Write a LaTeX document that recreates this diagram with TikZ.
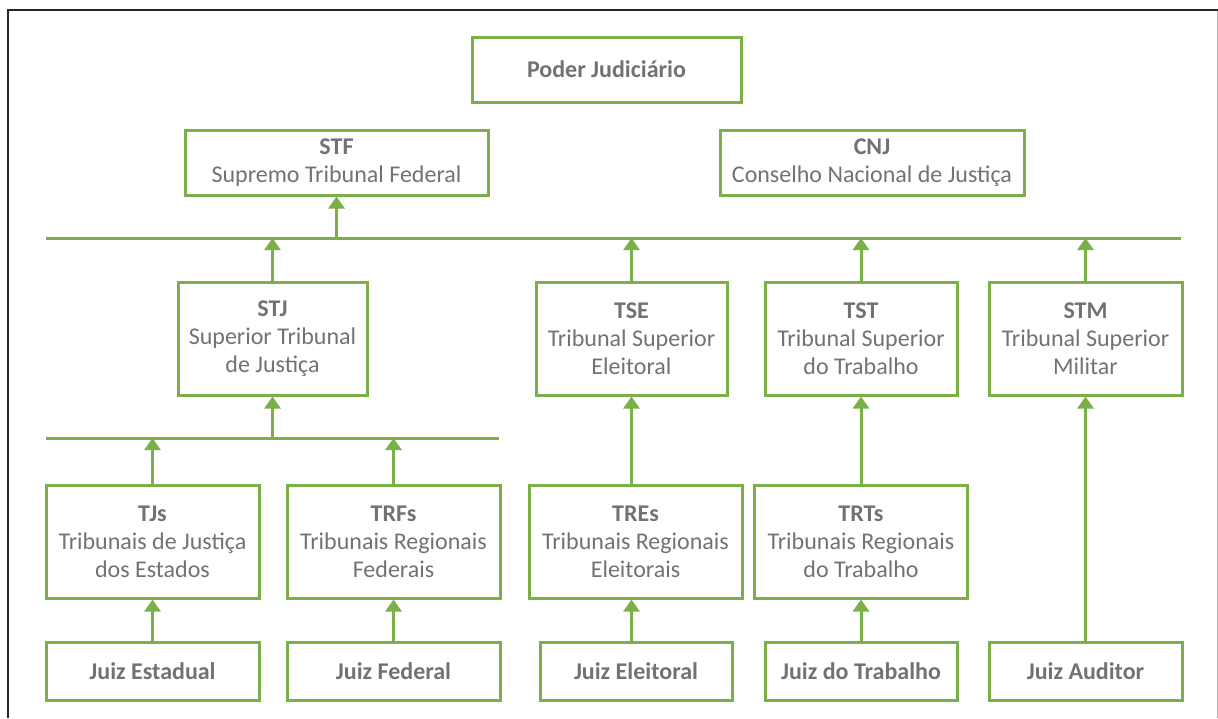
\documentclass[tikz,border=0pt]{standalone}
\usepackage{fontspec}
\setmainfont{Carlito}
\usetikzlibrary{arrows.meta}
\definecolor{grn}{HTML}{7AB047}
\definecolor{txt}{HTML}{757171}
\tikzset{
  box/.style={draw=grn, line width=3pt, rectangle, inner sep=0pt, align=center,
    text=txt, font=\fontsize{24}{28}\selectfont},
  arr/.style={draw=grn, line width=3pt, -{Triangle[width=16pt,length=12pt]}},
  busline/.style={draw=grn, line width=3pt},
}
\newcommand{\ttl}[1]{\textbf{#1}}
\begin{document}
\begin{tikzpicture}[x=1pt,y=1pt]
\useasboundingbox (0,0) rectangle (1218,-718);
% frame
\draw[line width=1.5pt, black!85] (8,-718) -- (8,-10) -- (1218,-10);
\draw[line width=1pt, black!30] (1217,-11) -- (1217,-718);

% top level
\node[box, minimum width=269pt, minimum height=65pt] (pj) at (606.5,-69.5) {\ttl{Poder Judiciário}};
\node[box, minimum width=303pt, minimum height=65pt] (stf) at (336.5,-162.5) {\ttl{STF}\\Supremo Tribunal Federal};
\node[box, minimum width=304pt, minimum height=65pt] (cnj) at (872,-162.5) {\ttl{CNJ}\\Conselho Nacional de Justiça};

% bus 1
\coordinate (b1l) at (46,-238);
\coordinate (b1r) at (1181,-238);
\draw[busline] (b1l) -- (b1r);

% superior courts
\node[box, minimum width=189pt, minimum height=113pt] (stj) at (272.5,-338.5) {\ttl{STJ}\\Superior Tribunal\\de Justiça};
\node[box, minimum width=191pt, minimum height=113pt] (tse) at (631.5,-338.5) {\ttl{TSE}\\Tribunal Superior\\Eleitoral};
\node[box, minimum width=192pt, minimum height=113pt] (tst) at (861,-338.5) {\ttl{TST}\\Tribunal Superior\\do Trabalho};
\node[box, minimum width=193pt, minimum height=113pt] (stm) at (1085.5,-338.5) {\ttl{STM}\\Tribunal Superior\\Militar};

% bus 2
\coordinate (b2l) at (46,-438);
\coordinate (b2r) at (499,-438);
\draw[busline] (b2l) -- (b2r);

% regional courts
\node[box, minimum width=213pt, minimum height=113pt] (tjs) at (152.5,-541.5) {\ttl{TJs}\\Tribunais de Justiça\\dos Estados};
\node[box, minimum width=213pt, minimum height=113pt] (trfs) at (393.5,-541.5) {\ttl{TRFs}\\Tribunais Regionais\\Federais};
\node[box, minimum width=213pt, minimum height=113pt] (tres) at (635.5,-541.5) {\ttl{TREs}\\Tribunais Regionais\\Eleitorais};
\node[box, minimum width=213pt, minimum height=113pt] (trts) at (861,-541.5) {\ttl{TRTs}\\Tribunais Regionais\\do Trabalho};

% judges
\node[box, minimum width=213pt, minimum height=58pt] (je) at (152.5,-671) {\ttl{Juiz Estadual}};
\node[box, minimum width=213pt, minimum height=58pt] (jf) at (393.5,-671) {\ttl{Juiz Federal}};
\node[box, minimum width=192pt, minimum height=58pt] (jel) at (636,-671) {\ttl{Juiz Eleitoral}};
\node[box, minimum width=192pt, minimum height=58pt] (jt) at (861,-671) {\ttl{Juiz do Trabalho}};
\node[box, minimum width=193pt, minimum height=58pt] (ja) at (1085.5,-671) {\ttl{Juiz Auditor}};

% connectors
\draw[arr] (stf.south |- b1l) -- (stf.south);
\draw[arr] (stj.north) -- (stj.north |- b1l);
\draw[arr] (tse.north) -- (tse.north |- b1l);
\draw[arr] (tst.north) -- (tst.north |- b1l);
\draw[arr] (stm.north) -- (stm.north |- b1l);

\draw[arr] (stj.south |- b2l) -- (stj.south);
\draw[arr] (tjs.north) -- (tjs.north |- b2l);
\draw[arr] (trfs.north) -- (trfs.north |- b2l);

\draw[arr] (tse.south |- tres.north) -- (tse.south);
\draw[arr] (trts.north) -- (tst.south);

\draw[arr] (je.north) -- (tjs.south);
\draw[arr] (jf.north) -- (trfs.south);
\draw[arr] (tse.south |- jel.north) -- (tse.south |- tres.south);
\draw[arr] (jt.north) -- (trts.south);
\draw[arr] (ja.north) -- (stm.south);
\end{tikzpicture}
\end{document}
